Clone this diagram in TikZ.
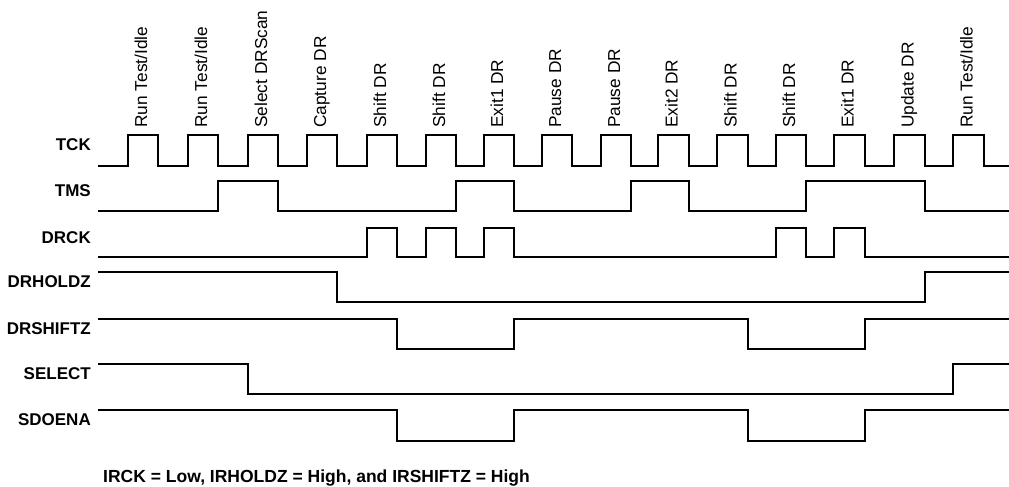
\documentclass[tikz,border=0pt]{standalone}
\usepackage{fontspec}
\setmainfont{Liberation Sans}
\begin{document}
\begin{tikzpicture}[x=1pt,y=-1pt,
  wave/.style={line width=1.9pt, line join=miter, black},
  siglabel/.style={anchor=base east, inner sep=0pt, font=\fontsize{17}{17}\selectfont\bfseries},
  statelabel/.style={anchor=base west, rotate=90, inner sep=0pt, font=\fontsize{17.3}{17.3}\selectfont},
  notelabel/.style={anchor=base west, inner sep=0pt, font=\fontsize{17.5}{17.5}\selectfont\bfseries}]
\useasboundingbox[fill=white] (0,0) rectangle (1009,487);

% state labels
\foreach \c/\t [count=\i] in {143/Run Test\slash Idle, 203/Run Test\slash Idle, 263/Select DRScan,
  322/Capture DR, 382/Shift DR, 441/Shift DR, 499/Exit1 DR, 557/Pause DR, 616/Pause DR,
  673.5/Exit2 DR, 732.5/Shift DR, 791/Shift DR, 849.5/Exit1 DR, 909.5/Update DR, 968.5/Run Test\slash Idle}
  \node[statelabel] (st\i) at (\c+4,128) {\t};

% signal labels
\node[siglabel] (lTCK) at (91,150.5) {TCK};
\node[siglabel] (lTMS) at (91,196.5) {TMS};
\node[siglabel] (lDRCK) at (91,243.5) {DRCK};
\node[siglabel] (lDRHOLDZ) at (91,287.5) {DRHOLDZ};
\node[siglabel] (lDRSHIFTZ) at (91,334.5) {DRSHIFTZ};
\node[siglabel] (lSELECT) at (91,379.5) {SELECT};
\node[siglabel] (lSDOENA) at (91,425.5) {SDOENA};

% TCK
\draw[wave] (98,166) \foreach \a/\b in {128/158,188/218,248/278,307/337,367/397,426/456,484/514,542/572,601/631,658/689,717/748,776/806,834/865,894/925,953/984}
  { -- (\a,166) -- (\a,135) -- (\b,135) -- (\b,166) } -- (1009,166);

% TMS
\draw[wave] (98,211) \foreach \a/\b in {218/278,456/514,631/689,806/925}
  { -- (\a,211) -- (\a,181) -- (\b,181) -- (\b,211) } -- (1009,211);

% DRCK
\draw[wave] (98,257) \foreach \a/\b in {367/397,426/456,484/514,776/806,834/865}
  { -- (\a,257) -- (\a,228) -- (\b,228) -- (\b,257) } -- (1009,257);

% DRHOLDZ
\draw[wave] (98,272) -- (337,272) -- (337,302) -- (925,302) -- (925,272) -- (1009,272);

% DRSHIFTZ
\draw[wave] (98,319) \foreach \a/\b in {397/514,748/865}
  { -- (\a,319) -- (\a,349) -- (\b,349) -- (\b,319) } -- (1009,319);

% SELECT
\draw[wave] (98,364) -- (248,364) -- (248,394) -- (953,394) -- (953,364) -- (1009,364);

% SDOENA
\draw[wave] (98,410) \foreach \a/\b in {397/514,748/865}
  { -- (\a,410) -- (\a,441) -- (\b,441) -- (\b,410) } -- (1009,410);

% note
\node[notelabel] (note) at (103,482) {IRCK = Low, IRHOLDZ = High, and IRSHIFTZ = High};
\end{tikzpicture}
\end{document}
